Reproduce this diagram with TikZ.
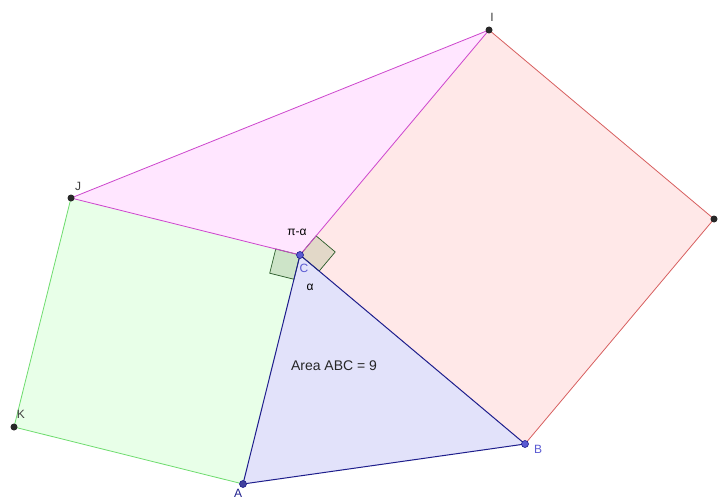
\documentclass[tikz,border=0pt]{standalone}
\usepackage{fontspec}
\setmainfont{Liberation Sans}
\usetikzlibrary{calc}
\definecolor{SqGreen}{RGB}{110,220,110}
\definecolor{SqGreenFill}{RGB}{232,255,232}
\definecolor{SqPink}{RGB}{215,95,95}
\definecolor{SqPinkFill}{RGB}{255,232,232}
\definecolor{TriMag}{RGB}{205,70,205}
\definecolor{TriMagFill}{RGB}{255,230,255}
\definecolor{TriBlue}{RGB}{30,30,140}
\definecolor{TriBlueFill}{RGB}{226,226,250}
\definecolor{MarkEdge}{RGB}{40,90,40}
\definecolor{MarkGreen}{RGB}{205,228,200}
\definecolor{MarkPink}{RGB}{226,216,200}
\definecolor{PtBlue}{RGB}{90,90,210}
\definecolor{PtGrey}{RGB}{40,40,40}

\begin{document}
\begin{tikzpicture}[
    x=1pt,y=-1pt,
    vertex/.style={circle,inner sep=0pt,minimum size=7pt,fill=PtGrey},
    bluevertex/.style={vertex,fill=PtBlue,draw=TriBlue,line width=0.6pt},
    lbl/.style={font=\fontsize{12}{14}\selectfont,text=black!75,inner sep=1pt},
    bluelbl/.style={lbl,text=PtBlue},
    rmark/.style={draw=MarkEdge,line width=0.7pt}
  ]
    \useasboundingbox (0,0) rectangle (719,500);
    \coordinate (C) at (300,255);
    \coordinate (A) at (243,484);
    \coordinate (B) at (525,444);
    \coordinate (K) at (14,427);
    \coordinate (J) at (71,198);
    \coordinate (I) at (489,30);
    \coordinate (H) at (714,219);
    % squares and triangles
    \fill[SqGreenFill] (C) -- (J) -- (K) -- (A) -- cycle;
    \fill[SqPinkFill] (C) -- (I) -- (H) -- (B) -- cycle;
    \fill[TriMagFill] (C) -- (J) -- (I) -- cycle;
    \fill[TriBlueFill] (C) -- (A) -- (B) -- cycle;
    % right angle marks
    \filldraw[rmark,fill=MarkGreen] (C) -- ($(C)!25pt!(J)$) -- ($(C)!25pt!(J)!25pt!90:(J)$) -- ($(C)!25pt!(A)$) -- cycle;
    \filldraw[rmark,fill=MarkPink] (C) -- ($(C)!25pt!(I)$) -- ($(C)!25pt!(I)!25pt!-90:(I)$) -- ($(C)!25pt!(B)$) -- cycle;
    % edges
    \draw[SqGreen,line width=0.8pt] (J) -- (K) -- (A);
    \draw[SqPink,line width=0.8pt] (I) -- (H) -- (B);
    \draw[TriMag,line width=0.8pt] (I) -- (J) -- (C) -- (I);
    \draw[TriBlue,line width=1pt] (C) -- (A) -- (B) -- (C);
    % points
    \node[vertex] (pI) at (I) {};
    \node[vertex] (pJ) at (J) {};
    \node[vertex] (pK) at (K) {};
    \node[vertex] (pH) at (H) {};
    \node[bluevertex] (pC) at (C) {};
    \node[bluevertex] (pB) at (B) {};
    \node[bluevertex,fill=TriBlue!85] (pA) at (A) {};
    % labels
    \node[lbl] (lI) at (492,17) {I};
    \node[lbl] (lJ) at (78,186) {J};
    \node[lbl] (lK) at (21,414) {K};
    \node[lbl,text=TriBlue] (lA) at (238,493) {A};
    \node[bluelbl] (lB) at (538,449) {B};
    \node[bluelbl] (lC) at (304,268) {C};
    \node[lbl,text=black] (pa) at (297,232) {π-α};
    \node[lbl,text=black] (al) at (310,287) {α};
    \node[lbl,text=black!85,font=\fontsize{14}{16}\selectfont] (area) at (334,366) {Area ABC = 9};
  \end{tikzpicture}
\end{document}
